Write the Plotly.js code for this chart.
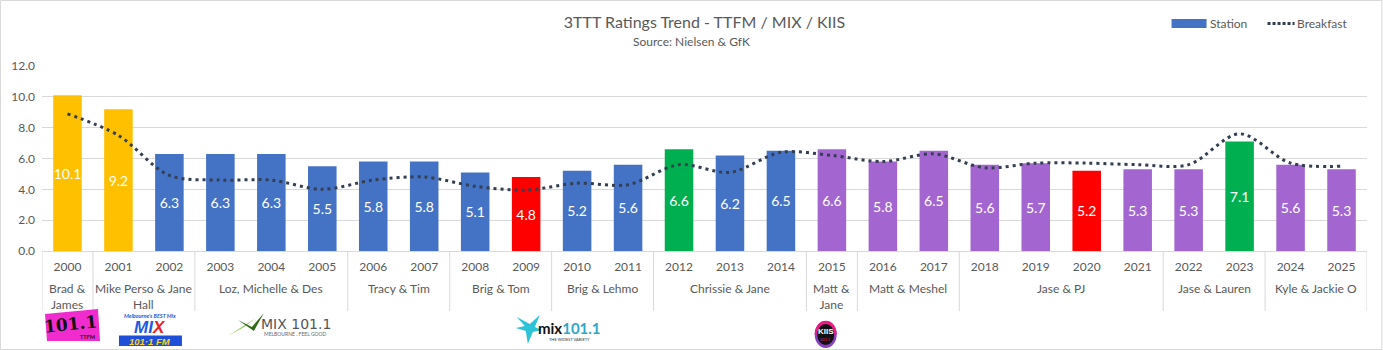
<!DOCTYPE html>
<html><head><meta charset="utf-8">
<script src="https://cdn.plot.ly/plotly-3.0.1.min.js"></script>
<style>html,body{margin:0;padding:0;background:#fff}#chart{width:1383px;height:350px}</style>
</head><body><div id="chart"></div>
<script>
// ---- data ----
const years = [2000,2001,2002,2003,2004,2005,2006,2007,2008,2009,2010,2011,2012,2013,2014,2015,2016,2017,2018,2019,2020,2021,2022,2023,2024,2025];
const stationValues = [10.1,9.2,6.3,6.3,6.3,5.5,5.8,5.8,5.1,4.8,5.2,5.6,6.6,6.2,6.5,6.6,5.8,6.5,5.6,5.7,5.2,5.3,5.3,7.1,5.6,5.3];
const barKind = ['TTFM','TTFM','MIX','MIX','MIX','MIX','MIX','MIX','MIX','low','MIX','MIX','high','MIX','MIX','KIIS','KIIS','KIIS','KIIS','KIIS','low','KIIS','KIIS','high','KIIS','KIIS'];
const breakfastValues = [8.9,7.5,4.9,4.6,4.6,4.0,4.6,4.8,4.2,3.95,4.4,4.3,5.6,5.1,6.4,6.2,5.8,6.3,5.4,5.7,5.7,5.6,5.6,7.6,5.7,5.5];
const teamNames = ['Brad &<br>James','Mike Perso & Jane<br>Hall','Loz, Michelle & Des','Tracy & Tim','Brig & Tom','Brig & Lehmo','Chrissie & Jane','Matt &<br>Jane','Matt & Meshel','Jase & PJ','Jase & Lauren','Kyle & Jackie O'];
const teamFirstYear = [2000,2001,2003,2006,2008,2010,2012,2015,2016,2018,2022,2024];
const teamLastYear  = [2000,2002,2005,2007,2009,2011,2014,2015,2017,2021,2023,2025];
const titleText = '3TTT Ratings Trend - TTFM / MIX / KIIS';
const subtitleText = 'Source: Nielsen &amp; GfK';
const seriesNames = ['Station','Breakfast'];

// ---- styles ----
const kindColor = {TTFM:'#FFC000', MIX:'#4472C4', KIIS:'#A366D0', low:'#FF0000', high:'#00B050'};
const W = 1383, H = 350;
const M = {l:42, r:15.5, t:66, b:99};
const PW = W - M.l - M.r, PH = H - M.t - M.b;
const px = x => (x - M.l) / PW;
const py = y => (H - M.b - y) / PH;
const FONT = 'Lato, "Open Sans", sans-serif';
const GREY = '#595959';

const traces = [
  {type:'bar', x:years, y:stationValues, name:seriesNames[0],
   marker:{color:barKind.map(k=>kindColor[k])},
   text:stationValues.map(v=>v.toFixed(1)), textposition:'inside', insidetextanchor:'middle',
   textangle:0, constraintext:'none', textfont:{color:'#fff', size:14, family:FONT},
   hoverinfo:'x+y', showlegend:false},
  {type:'scatter', mode:'lines', x:years, y:breakfastValues, name:seriesNames[1],
   line:{color:'#333F50', width:3, dash:'3px,4px', shape:'spline', smoothing:0.9},
   showlegend:false}
];

const shapes = [];
const annotations = [];
const note = (x, y, text, font, extra) => annotations.push(Object.assign({xref:'paper', yref:'paper', x:px(x), y:py(y), text:text,
  showarrow:false, xanchor:'center', yanchor:'middle', borderpad:0, font:font}, extra || {}));
// chart border
shapes.push({type:'rect', xref:'paper', yref:'paper', x0:px(0.5), x1:px(1382.5), y0:py(0.5), y1:py(349.5), line:{color:'#D9D9D9', width:1}, fillcolor:'rgba(0,0,0,0)', layer:'below'});
// group separators and labels
const boundaries = teamFirstYear.map(y=>y-0.5).concat([teamLastYear[teamLastYear.length-1]+0.5]);
boundaries.forEach(b=>shapes.push({type:'line', xref:'x', yref:'paper', x0:b, x1:b, y0:0, y1:py(311), line:{color:'#D9D9D9', width:1}}));
teamNames.forEach((n,i)=>annotations.push({xref:'x', yref:'paper', x:(teamFirstYear[i]+teamLastYear[i])/2, y:py(280),
  yanchor:'top', xanchor:'center', text:n, showarrow:false, borderpad:0, font:{family:FONT, size:12, color:GREY}}));
// subtitle
note(691.5, 41, subtitleText, {family:FONT, size:12, color:GREY});
// legend
shapes.push({type:'rect', xref:'paper', yref:'paper', x0:px(1172), x1:px(1207), y0:py(19), y1:py(28), fillcolor:'#4472C4', line:{width:0}});
note(1209, 23.5, seriesNames[0], {family:FONT, size:12, color:GREY}, {xanchor:'left'});
shapes.push({type:'line', xref:'paper', yref:'paper', x0:px(1268), x1:px(1295), y0:py(23.5), y1:py(23.5), line:{color:'#333F50', width:3, dash:'3px,2px'}});
note(1296, 23.5, seriesNames[1], {family:FONT, size:12, color:GREY}, {xanchor:'left'});

// ---- logos (approximations) ----
const P = (x,y)=>px(x)+','+py(y);
const path = (pts, color) => shapes.push({type:'path', xref:'paper', yref:'paper',
  path:'M' + pts.map(p=>P(p[0],p[1])).join(' L') + ' Z', fillcolor:color, line:{width:0}});
// 101.1 TTFM
path([[45,314],[98,309],[100,341],[47,341]], '#F02CCF');
note(71, 324, '<b>101.1</b>', {family:'"DejaVu Serif", serif', size:17, color:'#111'}, {textangle:-6});
note(88, 337, '<b>TTFM</b>', {family:FONT, size:5.5, color:'#111'});
// MIX 101.1 FM
note(150, 315.5, "<b><i>Melbourne's BEST Mix</i></b>", {family:FONT, size:5.5, color:'#1E4FD8'});
note(150, 327, '<b><i>MI<span style="color:#E8231D">X</span></i></b>', {family:'"Liberation Sans", sans-serif', size:17, color:'#1E5BE0'});
shapes.push({type:'rect', xref:'paper', yref:'paper', x0:px(119), x1:px(182), y0:py(335.5), y1:py(346), fillcolor:'#1E4FD8', line:{width:0}});
note(150.5, 341, '<b><i>101·1 FM</i></b>', {family:'"Liberation Sans", sans-serif', size:9.5, color:'#FFD21F'});
// MIX101.1 Melbourne Feel Good
path([[228,336],[256,318],[244,327]], '#7CC242');
path([[238,320],[252,327],[264,313],[254,331]], '#2F6B16');
note(296, 323.5, 'MIX 101.1', {family:'"DejaVu Sans", sans-serif', size:14, color:'#555'});
note(296, 334, 'MELBOURNE . FEEL GOOD', {family:FONT, size:5, color:'#666'});
// mix101.1 teal
path([[517,317],[530,324],[540,315],[535,327],[542,330],[533,332],[528,344],[526,331],[516,328],[525,326]], '#2EC3D6');
note(537, 327.5, '<b>mix</b><span style="color:#2EA7C9"><b>101.1</b></span>', {family:FONT, size:15, color:'#111'}, {xanchor:'left'});
note(570, 339, 'THE WIDEST VARIETY', {family:FONT, size:4, color:'#333'});
// KIIS
shapes.push({type:'circle', xref:'paper', yref:'paper', x0:px(815), x1:px(837), y0:py(321), y1:py(348), fillcolor:'#8A3FC0', line:{width:0}});
shapes.push({type:'path', xref:'paper', yref:'paper', path:'M'+P(815,334.5)+' C'+P(815,316)+' '+P(837,316)+' '+P(837,334.5)+' Z', fillcolor:'#EC1B84', line:{width:0}});
shapes.push({type:'circle', xref:'paper', yref:'paper', x0:px(817.5), x1:px(834.5), y0:py(324), y1:py(345), fillcolor:'#111', line:{width:0}});
note(826, 331.5, '<b>KIIS</b>', {family:'"Liberation Sans", sans-serif', size:8, color:'#fff'});
note(826, 339.5, '101.1', {family:FONT, size:4, color:'#EC1B84'});

const layout = {
  width:W, height:H, margin:M, paper_bgcolor:'#fff', plot_bgcolor:'#fff',
  font:{family:FONT, color:GREY, size:12},
  title:{text:titleText, x:0.5, xref:'paper', y:1-22/H, yref:'container', yanchor:'middle', xanchor:'center', font:{family:FONT, size:16, color:GREY}},
  bargap:0.44, showlegend:false,
  xaxis:{range:[1999.5,2025.5], tickmode:'array', tickvals:years, ticktext:years.map(String), showgrid:false, zeroline:false,
         showline:true, linecolor:'#D9D9D9', linewidth:1, ticks:'', tickfont:{family:FONT, size:12, color:GREY}, ticklabelstandoff:5, fixedrange:true},
  yaxis:{range:[0,12], dtick:2, tick0:0, tickformat:'.1f', showgrid:true, gridcolor:'#D9D9D9', gridwidth:1, zeroline:false, showline:false,
         ticks:'', tickfont:{family:FONT, size:12, color:GREY}, ticklabelstandoff:6, fixedrange:true},
  shapes:shapes, annotations:annotations
};
Plotly.newPlot('chart', traces, layout, {displayModeBar:false, staticPlot:true});
</script></body></html>
